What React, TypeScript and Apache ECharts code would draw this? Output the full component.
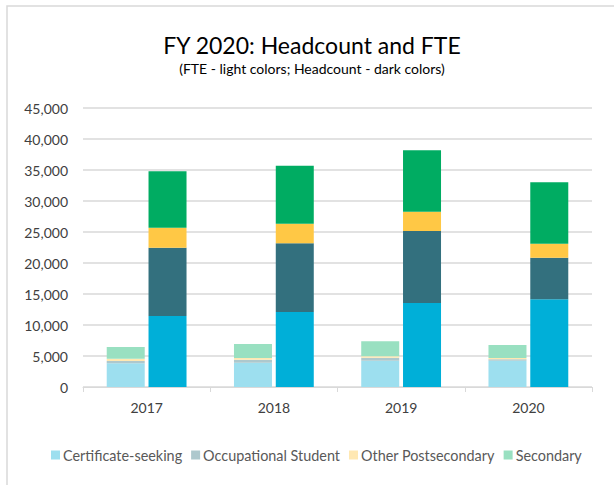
import React, { useEffect, useRef } from "react";
import * as echarts from "echarts";

const years = ["2017", "2018", "2019", "2020"];
const groups = ["Certificate-seeking", "Occupational Student", "Other Postsecondary", "Secondary"];

// FTE (light colors)
const fteCertificate = [3820, 3930, 4250, 4250];
const fteOccupational = [380, 480, 480, 210];
const fteOther = [370, 270, 220, 220];
const fteSecondary = [1880, 2260, 2420, 2100];

// Headcount (dark colors)
const hcCertificate = [11450, 12100, 13550, 14140];
const hcOccupational = [11020, 11070, 11610, 6720];
const hcOther = [3230, 3170, 3120, 2260];
const hcSecondary = [9100, 9360, 9890, 9890];

const lightColors = ["#9ddfef", "#adc8cd", "#ffe8b2", "#99e0c1"];
const darkColors = ["#00afd8", "#33707e", "#ffc845", "#00ac62"];

const FONT = "Lato, 'Noto Sans', sans-serif";

export default function App() {
  const ref = useRef<HTMLDivElement>(null);
  useEffect(() => {
    if (!ref.current) return;
    const chart = echarts.init(ref.current, null, { renderer: "svg" });
    const fte = [fteCertificate, fteOccupational, fteOther, fteSecondary];
    const hc = [hcCertificate, hcOccupational, hcOther, hcSecondary];
    const series: any[] = [];
    groups.forEach((g, i) => {
      series.push({
        name: g,
        type: "bar",
        stack: "fte",
        data: fte[i],
        barWidth: 38,
        barGap: "10%",
        itemStyle: { color: lightColors[i] },
      });
    });
    groups.forEach((g, i) => {
      series.push({
        name: g + " (Headcount)",
        type: "bar",
        stack: "hc",
        data: hc[i],
        barWidth: 38,
        barGap: "10%",
        itemStyle: { color: darkColors[i] },
      });
    });
    chart.setOption({
      animation: false,
      textStyle: { fontFamily: FONT },
      graphic: [
        {
          type: "rect",
          shape: { x: 7, y: 6, width: 640, height: 520 },
          style: { fill: "none", stroke: "#d9d9d9", lineWidth: 1.5 },
          silent: true,
        },
      ],
      title: {
        text: "FY 2020: Headcount and FTE",
        subtext: "(FTE - light colors; Headcount - dark colors)",
        left: 307,
        textAlign: "center",
        top: 28,
        itemGap: 5,
        textStyle: { fontFamily: FONT, fontSize: 23, fontWeight: "normal", color: "#000000" },
        subtextStyle: { fontFamily: FONT, fontSize: 14, color: "#000000" },
      },
      legend: {
        data: groups,
        left: 46,
        top: 443,
        itemWidth: 9,
        itemHeight: 9,
        itemGap: 9,
        icon: "rect",
        textStyle: { fontFamily: FONT, fontSize: 14.4, color: "#595959", padding: [0, 0, 0, -2] },
      },
      grid: { left: 83, right: 22, top: 108, bottom: 98, containLabel: false },
      xAxis: {
        type: "category",
        data: years,
        axisLine: { lineStyle: { color: "#d9d9d9", width: 1 } },
        axisTick: { show: true, length: 5, lineStyle: { color: "#d9d9d9" } },
        axisLabel: { fontFamily: FONT, fontSize: 14, color: "#404040", margin: 13 },
      },
      yAxis: {
        type: "value",
        min: 0,
        max: 45000,
        interval: 5000,
        axisLine: { show: false },
        axisTick: { show: false },
        splitLine: { lineStyle: { color: "#d9d9d9", width: 1.5 } },
        axisLabel: {
          fontFamily: FONT,
          fontSize: 14,
          color: "#404040",
          margin: 15,
          formatter: (v: number) => v.toLocaleString("en-US"),
        },
      },
      series,
    });
    return () => chart.dispose();
  }, []);
  return <div ref={ref} style={{ width: 614, height: 485, position: "absolute", left: 0, top: 0 }} />;
}
